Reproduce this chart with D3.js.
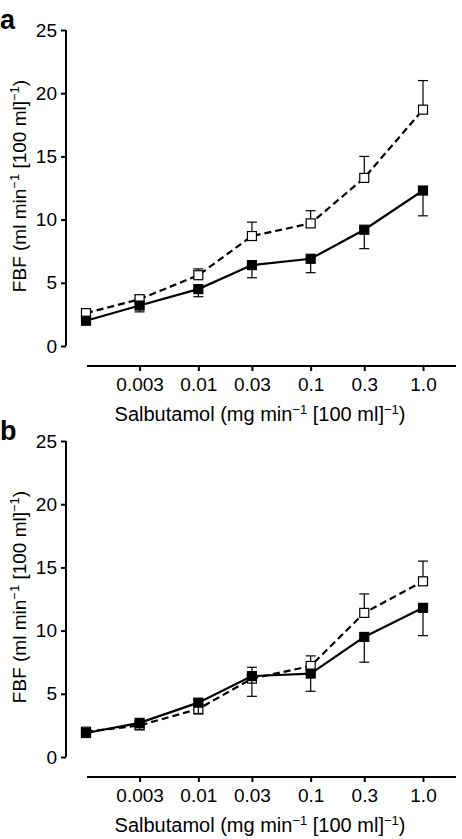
<!DOCTYPE html>
<html><head><meta charset="utf-8">
<script src="https://cdn.jsdelivr.net/npm/d3@7/dist/d3.min.js"></script>
<style>
body{margin:0;background:#fff;}
text{font-family:"Liberation Sans",Arial,Helvetica,sans-serif;fill:#000;}
</style></head>
<body>
<svg id="chart" width="462" height="839"></svg>
<script>
const doses = [0.001, 0.003, 0.01, 0.03, 0.1, 0.3, 1.0];
const xTickValues = [0.003, 0.01, 0.03, 0.1, 0.3, 1.0];
const xTickLabels = ["0.003", "0.01", "0.03", "0.1", "0.3", "1.0"];
const yTickValues = [0, 5, 10, 15, 20, 25];

const aFilled = [2.0, 3.2, 4.5, 6.4, 6.9, 9.2, 12.3];
const aFilledErr = [0.2, 0.5, 0.6, 1.0, 1.1, 1.5, 2.0];
const aOpen = [2.6, 3.7, 5.6, 8.7, 9.7, 13.3, 18.7];
const aOpenErr = [0.2, 0.3, 0.5, 1.1, 1.0, 1.7, 2.3];

const bFilled = [1.9, 2.7, 4.3, 6.4, 6.6, 9.5, 11.8];
const bFilledErr = [0.2, 0.5, 0.9, 1.6, 1.4, 2.0, 2.2];
const bOpen = [2.0, 2.5, 3.8, 6.2, 7.2, 11.4, 13.9];
const bOpenErr = [0.2, 0.3, 0.4, 0.9, 0.8, 1.5, 1.6];

const svg = d3.select("#chart");
const FS = 19, SUP = 13, XFS = 20;

function panel(label, top, filled, filledErr, open, openErr) {
  const g = svg.append("g").attr("transform", `translate(0,${top})`);
  const x = d3.scaleLog().domain([0.001, 1]).range([86, 423]);
  const y = d3.scaleLinear().domain([0, 25]).range([346, 30]);

  g.append("text").attr("x", 0).attr("y", 29).attr("font-size", 27)
    .attr("font-weight", "bold").attr("fill", "#000").text(label);

  const yAxis = g.append("g").attr("transform", "translate(66,0)")
    .call(d3.axisLeft(y).tickValues(yTickValues).tickSize(5).tickPadding(4).tickFormat(d3.format("d")));
  yAxis.select(".domain").attr("d", `M0,${y(25)}V${y(0)}`).attr("stroke-width", 2);
  yAxis.selectAll(".tick line").attr("stroke-width", 2);
  yAxis.selectAll("text").attr("font-size", FS).attr("font-family", null).attr("fill", "#000");

  const xAxis = g.append("g").attr("transform", "translate(0,366)")
    .call(d3.axisBottom(x).tickValues(xTickValues).tickSize(5).tickPadding(7)
      .tickFormat((d, i) => xTickLabels[i]));
  xAxis.select(".domain").attr("d", "M87,0H456").attr("stroke-width", 2);
  xAxis.selectAll(".tick line").attr("stroke-width", 2);
  xAxis.selectAll("text").attr("font-size", FS).attr("font-family", null).attr("fill", "#000");

  const xt = g.append("text").attr("x", 260).attr("y", 421)
    .attr("text-anchor", "middle").attr("font-size", XFS).attr("fill", "#000");
  xt.append("tspan").text("Salbutamol (mg min");
  xt.append("tspan").attr("dy", -7).attr("font-size", SUP).text("\u22121");
  xt.append("tspan").attr("dy", 7).text(" [100 ml]");
  xt.append("tspan").attr("dy", -7).attr("font-size", SUP).text("\u22121");
  xt.append("tspan").attr("dy", 7).text(")");

  const yt = g.append("text").attr("transform", "translate(26,186) rotate(-90)")
    .attr("text-anchor", "middle").attr("font-size", FS).attr("fill", "#000");
  yt.append("tspan").text("FBF (ml min");
  yt.append("tspan").attr("dy", -7).attr("font-size", SUP).text("\u22121");
  yt.append("tspan").attr("dy", 7).text(" [100 ml]");
  yt.append("tspan").attr("dy", -7).attr("font-size", SUP).text("\u22121");
  yt.append("tspan").attr("dy", 7).text(")");

  const line = d3.line().x((d, i) => x(doses[i])).y(d => y(d));
  const S = 9;

  function series(vals, errs, dir, dashed, fill) {
    const eb = g.append("g").attr("stroke", "#000").attr("stroke-width", 1.2);
    vals.forEach((v, i) => {
      const ye = y(v + dir * errs[i]);
      const xx = x(doses[i]);
      eb.append("line").attr("x1", xx).attr("x2", xx).attr("y1", y(v)).attr("y2", ye);
      eb.append("line").attr("x1", xx - 5).attr("x2", xx + 5).attr("y1", ye).attr("y2", ye);
    });
    g.append("path").datum(vals).attr("d", line).attr("fill", "none")
      .attr("stroke", "#000").attr("stroke-width", 2.2)
      .attr("stroke-dasharray", dashed ? "7,4" : null);
    g.append("g").selectAll("rect").data(vals).join("rect")
      .attr("x", (d, i) => x(doses[i]) - S / 2).attr("y", d => y(d) - S / 2)
      .attr("width", S).attr("height", S)
      .attr("fill", fill).attr("stroke", "#000").attr("stroke-width", 1.2);
  }
  series(open, openErr, 1, true, "#fff");
  series(filled, filledErr, -1, false, "#000");
}

panel("a", 0, aFilled, aFilledErr, aOpen, aOpenErr);
panel("b", 411, bFilled, bFilledErr, bOpen, bOpenErr);
</script>
</body></html>
